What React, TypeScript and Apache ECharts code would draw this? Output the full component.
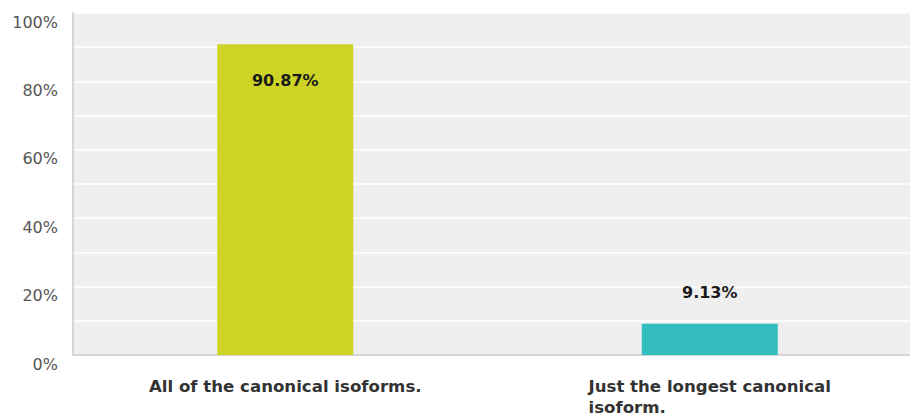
import React, { useEffect, useRef } from "react";
import * as echarts from "echarts";

const categories: string[] = ["All of the canonical isoforms.", "Just the longest canonical\nisoform."];
const values: number[] = [90.87, 9.13];
const barColors: string[] = ["#cdd425", "#33bdbf"];
const yTicks: number[] = [0, 20, 40, 60, 80, 100];

export default function App() {
  const ref = useRef<HTMLDivElement>(null);
  useEffect(() => {
    if (!ref.current) return;
    const chart = echarts.init(ref.current, undefined, { renderer: "svg" });
    chart.setOption({
      animation: false,
      grid: {
        left: 73,
        right: -12,
        top: 13,
        bottom: 61,
        outerBoundsMode: "none",
        containLabel: false,
        show: true,
        backgroundColor: "#efefef",
        borderWidth: 0,
      },
      xAxis: {
        type: "category",
        data: categories,
        axisLine: { show: true, lineStyle: { color: "#d6d6d6", width: 2 } },
        axisTick: { show: false },
        axisLabel: {
          margin: 21,
          interval: 0,
          align: "center",
          formatter: (v: string) => v.split("\n").map((l) => `{a|${l}}`).join("\n"),
          rich: {
            a: {
              align: "left",
              fontFamily: "DejaVu Sans",
              fontWeight: "bold",
              fontSize: 16.6,
              lineHeight: 21,
              color: "#333",
            },
          },
        },
      },
      yAxis: {
        type: "value",
        min: 0,
        max: 100,
        interval: 10,
        axisLine: { show: true, lineStyle: { color: "#d6d6d6", width: 2 } },
        axisTick: { show: false },
        splitLine: { show: true, lineStyle: { color: "#ffffff", width: 1.5 } },
        axisLabel: {
          margin: 15,
          verticalAlign: "top",
          lineHeight: 16,
          padding: [1, 0, 0, 0],
          fontFamily: "DejaVu Sans",
          fontSize: 16,
          color: "#555",
          formatter: (v: number) => (yTicks.includes(v) ? `${v}%` : ""),
        },
      },
      series: [
        {
          type: "bar",
          barWidth: 136,
          data: values.map((v, i) => ({
            value: v,
            itemStyle: { color: barColors[i] },
            label:
              i === 0
                ? { show: true, position: "insideTop", distance: 28 }
                : { show: true, position: "top", distance: 23 },
          })),
          label: {
            show: true,
            formatter: (p: any) => `${p.value.toFixed(2)}%`,
            fontFamily: "DejaVu Sans",
            fontWeight: "bold",
            fontSize: 16,
            lineHeight: 16,
            color: "#1a1a1a",
          },
        },
      ],
    });
    return () => chart.dispose();
  }, []);
  return (
    <div
      ref={ref}
      style={{ position: "fixed", left: 0, top: 0, width: 910, height: 416, background: "#ffffff" }}
    />
  );
}
